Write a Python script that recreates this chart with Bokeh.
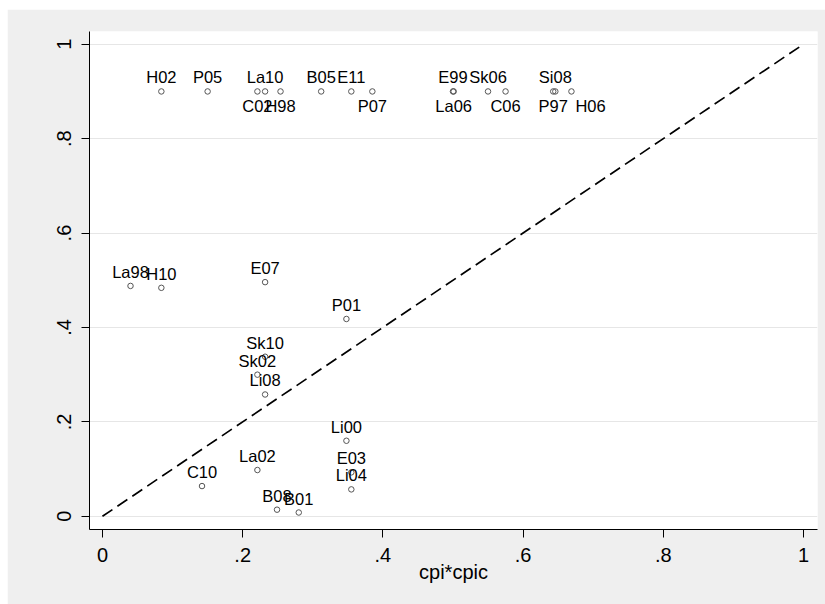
from bokeh.plotting import figure
from bokeh.models import ColumnDataSource, FixedTicker, Range1d
from bokeh.core.properties import value
from bokeh.embed import file_html
from bokeh.resources import INLINE

# ---- data ----
names = ["H02", "P05", "La10", "C02", "H98", "B05", "E11", "P07", "E99", "La06",
         "Sk06", "C06", "Si08", "P97", "H06", "La98", "H10", "E07", "P01", "Sk10",
         "Sk02", "Li08", "Li00", "La02", "C10", "E03", "Li04", "B08", "B01"]
cpi_cpic = [0.084, 0.150, 0.232, 0.221, 0.254, 0.312, 0.355, 0.385, 0.500, 0.501,
            0.550, 0.575, 0.646, 0.643, 0.669, 0.040, 0.084, 0.232, 0.348, 0.232,
            0.221, 0.232, 0.348, 0.221, 0.142, 0.355, 0.355, 0.249, 0.280]
yvals = [0.900, 0.900, 0.900, 0.900, 0.900, 0.900, 0.900, 0.900, 0.900, 0.900,
         0.900, 0.900, 0.900, 0.900, 0.900, 0.488, 0.484, 0.496, 0.418, 0.338,
         0.300, 0.258, 0.160, 0.098, 0.064, 0.093, 0.057, 0.014, 0.008]
# marker label clock positions (12 = above, 6 = below, 5 = below right)
label_pos = [12, 12, 12, 6, 6, 12, 12, 6, 12, 6,
             12, 6, 12, 6, 5, 12, 12, 12, 12, 12,
             12, 12, 12, 12, 12, 12, 12, 12, 12]
ticks = [0, 0.2, 0.4, 0.6, 0.8, 1]
tick_labels = ["0", ".2", ".4", ".6", ".8", "1"]
diag = [0, 1]
x_title = "cpi*cpic"

FONT = "Liberation Sans"

p = figure(width=818, height=595, output_backend="svg", toolbar_location=None,
           x_range=Range1d(-0.0185, 1.02), y_range=Range1d(-0.028, 1.027),
           min_border_left=82, min_border_right=8, min_border_top=22, min_border_bottom=75)
p.margin = (9, 0, 0, 7)
p.border_fill_color = "#efefef"
p.background_fill_color = "white"
p.outline_line_color = None

# diagonal
p.line(diag, diag, line_color="black", line_width=1.7, line_dash="12 6")

src = ColumnDataSource(dict(x=cpi_cpic, y=yvals, name=names))
p.scatter("x", "y", source=src, marker="circle", size=5.5, fill_color=None,
          line_color="#555555", line_width=1)


def subset(pos):
    idx = [i for i, v in enumerate(label_pos) if v == pos]
    return ColumnDataSource(dict(x=[cpi_cpic[i] for i in idx], y=[yvals[i] for i in idx],
                                 name=[names[i] for i in idx]))


common = dict(text_font=value(FONT), text_font_size="16.5px", text_color="black")
p.text("x", "y", text="name", source=subset(12), text_align="center",
       text_baseline="alphabetic", y_offset=-14, **common)
p.text("x", "y", text="name", source=subset(6), text_align="center",
       text_baseline="top", y_offset=6, **common)
p.text("x", "y", text="name", source=subset(5), text_align="left",
       text_baseline="top", x_offset=4, y_offset=6, **common)

for ax in (p.xaxis[0], p.yaxis[0]):
    ax.ticker = FixedTicker(ticks=ticks)
    ax.major_label_overrides = dict(zip(ticks, tick_labels))
    ax.major_label_text_font = FONT
    ax.major_label_text_font_size = "20px"
    ax.major_label_text_color = "black"
    ax.axis_line_color = "black"
    ax.axis_line_width = 1
    ax.major_tick_line_color = "black"
    ax.major_tick_out = 8
    ax.major_tick_in = 0
    ax.minor_tick_line_color = None
    ax.axis_label_text_font = FONT
    ax.axis_label_text_font_style = "normal"
    ax.axis_label_text_font_size = "20px"
    ax.axis_label_text_color = "black"

p.xaxis.axis_label = x_title
p.xaxis.major_label_standoff = 10
p.xaxis.axis_label_standoff = -4
p.yaxis.major_label_orientation = "vertical"
p.yaxis.major_label_standoff = 10

p.xgrid.grid_line_color = None
p.ygrid.ticker = FixedTicker(ticks=ticks)
p.ygrid.grid_line_color = "#e6e6e6"
p.ygrid.grid_line_width = 1

open("out.html", "w").write(file_html(p, INLINE))
